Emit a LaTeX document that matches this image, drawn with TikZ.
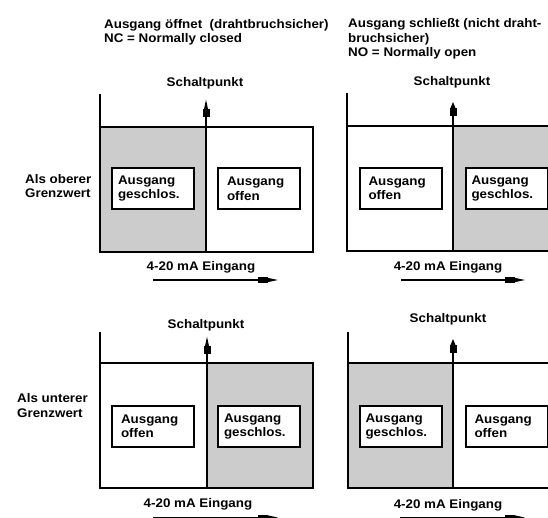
\documentclass[tikz,border=0pt]{standalone}
\usepackage{fontspec}
\setmainfont{Liberation Sans}[FakeStretch=1.07]
\usetikzlibrary{arrows.meta}
\definecolor{zonegray}{rgb}{0.8,0.8,0.8}

\tikzset{
  every node/.style={font=\fontsize{12.5}{14.5}\selectfont\bfseries, inner sep=0pt},
  frame/.style={line width=1.6pt},
  zone/.style={fill=zonegray},
  sparrow/.style={-{Rectangle[length=8pt,width=7pt]Triangle[length=10pt,width=3.5pt]}},
  thindiv/.style={line width=1.4pt},
  thickdiv/.style={line width=2.6pt},
  inarrow/.style={line width=2pt,-{Rectangle[length=10pt,width=6pt]Triangle[length=12pt,width=3.5pt]}},
  boxbase/.style={draw, line width=2pt, fill=white, minimum height=41pt, align=left},
  closedbox/.style={boxbase, text width=70pt, inner xsep=6pt},
  openbox/.style={boxbase, text width=64pt, inner xsep=9pt},
  title/.style={anchor=base west, align=left},
}

\begin{document}
\begin{tikzpicture}[x=1pt, y=-1pt]
\useasboundingbox (0,0) rectangle (548,518);

% Ueberschriften (base = letzte Zeile)
\node[title] (titlenc) at (104,43) {Ausgang öffnet\ \ (drahtbruchsicher)\\NC = Normally closed};
\node[title] (titleno) at (348,57) {Ausgang schließt (nicht draht-\\bruchsicher)\\NO = Normally open};

\node[title] (oberer) at (25,198) {Als oberer\\Grenzwert};
\node[title] (unterer) at (17,417) {Als unterer\\Grenzwert};

% oben links
\fill[zone] (100,127) rectangle (206,252);
\draw[frame] (100,94) -- (100,252) -- (313,252) -- (313,127) -- (100,127);
\coordinate (tlbot) at (206,252);
\coordinate (tltip) at (206,99);
\draw[sparrow, thindiv] (tlbot) -- (tltip);
\node[anchor=base] (tlsp) at (205,87) {Schaltpunkt};
\node[closedbox] (tlclosed) at (153,188.5) {Ausgang\\geschlos.};
\node[openbox] (tlopen) at (259,189) {Ausgang\\offen};
\node[anchor=base] (tlein) at (201,270) {4-20 mA Eingang};
\coordinate (tlfrom) at (153,280);
\coordinate (tlto) at (280,280);
\draw[inarrow] (tlfrom) -- (tlto);

% oben rechts
\fill[zone] (453,126) rectangle (560,251);
\draw[frame] (347,93) -- (347,251) -- (560,251);
\draw[frame] (347,126) -- (560,126);
\coordinate (trbot) at (453,251);
\coordinate (trtip) at (453,98);
\draw[sparrow, thickdiv] (trbot) -- (trtip);
\node[anchor=base] (trsp) at (452,86) {Schaltpunkt};
\node[openbox] (tropen) at (400.5,188.5) {Ausgang\\offen};
\node[closedbox] (trclosed) at (506.5,188.5) {Ausgang\\geschlos.};
\node[anchor=base] (trein) at (448,271) {4-20 mA Eingang};
\coordinate (trfrom) at (401,280);
\coordinate (trto) at (527,280);
\draw[inarrow] (trfrom) -- (trto);

% unten links
\fill[zone] (207,363) rectangle (313,488);
\draw[frame] (100,332) -- (100,488) -- (313,488) -- (313,363) -- (100,363);
\coordinate (blbot) at (207,488);
\coordinate (bltip) at (207,336);
\draw[sparrow, thindiv] (blbot) -- (bltip);
\node[anchor=base] (blsp) at (206,328) {Schaltpunkt};
\node[openbox] (blopen) at (153,426.5) {Ausgang\\offen};
\node[closedbox] (blclosed) at (259,426.5) {Ausgang\\geschlos.};
\node[anchor=base] (blein) at (198,507.5) {4-20 mA Eingang};
\coordinate (blfrom) at (153,517.5);
\coordinate (blto) at (280,517.5);
\draw[inarrow] (blfrom) -- (blto);

% unten rechts
\fill[zone] (348,363) rectangle (453,488);
\draw[frame] (348,332) -- (348,488) -- (560,488);
\draw[frame] (348,363) -- (560,363);
\coordinate (brbot) at (453,488);
\coordinate (brtip) at (453,335);
\draw[sparrow, thickdiv] (brbot) -- (brtip);
\node[anchor=base] (brsp) at (448,322) {Schaltpunkt};
\node[closedbox] (brclosed) at (400.5,426.5) {Ausgang\\geschlos.};
\node[openbox] (bropen) at (506.5,426.5) {Ausgang\\offen};
\node[anchor=base] (brein) at (448,508) {4-20 mA Eingang};
\coordinate (brfrom) at (400,517.5);
\coordinate (brto) at (527,517.5);
\draw[inarrow] (brfrom) -- (brto);
\end{tikzpicture}
\end{document}
